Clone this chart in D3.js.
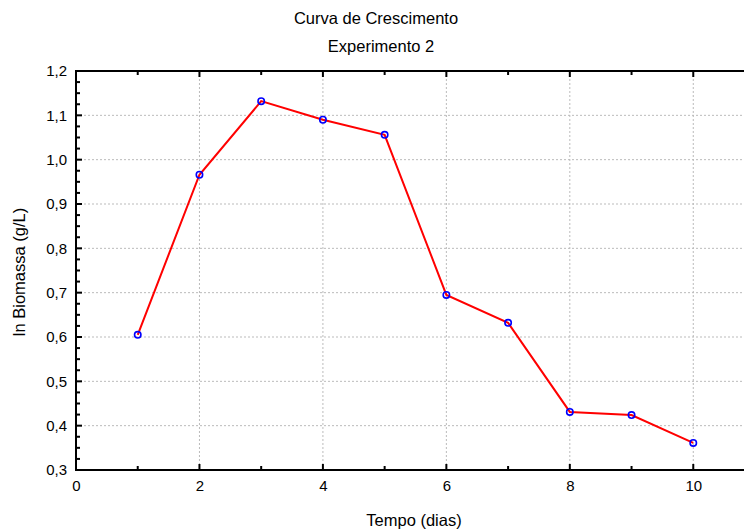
<!DOCTYPE html>
<html>
<head>
<meta charset="utf-8">
<script src="https://cdn.jsdelivr.net/npm/d3@7"></script>
<style>
  body { margin: 0; background: #fff; }
  svg { display: block; font-family: "Liberation Sans", Arial, sans-serif; }
</style>
</head>
<body>
<div id="chart-area"></div>
<script>
// data
var dias = [1, 2, 3, 4, 5, 6, 7, 8, 9, 10];
var biomassa = [0.605, 0.966, 1.132, 1.090, 1.056, 0.695, 0.632, 0.431, 0.424, 0.361];
var xTicks = [0, 2, 4, 6, 8, 10];
var yTicks = [0.3, 0.4, 0.5, 0.6, 0.7, 0.8, 0.9, 1.0, 1.1, 1.2];

var width = 744;
var height = 529;
var margin = {top: 71, left: 76, bottom: 59};

var svg = d3.select("#chart-area")
    .append("svg")
    .attr("width", width)
    .attr("height", height);

// x domain runs past the window edge, like the original
var x = d3.scaleLinear()
    .domain([0, 11])
    .range([margin.left, 755]);

var y = d3.scaleLinear()
    .domain([0.3, 1.2])
    .range([height - margin.bottom, margin.top]);

var fmt = (d) => d3.format(".1f")(d).replace(".", ",");

// grid
svg.append("g")
    .selectAll("line")
    .data(yTicks.slice(1, -1))
    .enter().append("line")
        .attr("x1", x(0))
        .attr("x2", width)
        .attr("y1", (d) => y(d))
        .attr("y2", (d) => y(d))
        .attr("stroke", "#bbb")
        .attr("stroke-dasharray", "2,2");

svg.append("g")
    .selectAll("line")
    .data(xTicks.slice(1))
    .enter().append("line")
        .attr("x1", (d) => x(d))
        .attr("x2", (d) => x(d))
        .attr("y1", y(1.2))
        .attr("y2", y(0.3))
        .attr("stroke", "#bbb")
        .attr("stroke-dasharray", "2,2");

// bottom axis, ticks pointing inward
var bottomAxis = d3.axisBottom(x)
    .tickValues(xTicks)
    .tickSize(0)
    .tickPadding(10);

var xAxisGroup = svg.append("g")
    .attr("transform", "translate(0, " + y(0.3) + ")")
    .call(bottomAxis);
xAxisGroup.select(".domain").remove();
xAxisGroup.selectAll("text")
    .attr("font-size", "15px")
    .attr("font-family", "Liberation Sans, Arial, sans-serif")
    .attr("fill", "#000");

// left axis
var leftAxis = d3.axisLeft(y)
    .tickValues(yTicks)
    .tickSize(0)
    .tickPadding(9)
    .tickFormat(fmt);

var yAxisGroup = svg.append("g")
    .attr("transform", "translate(" + x(0) + ", 0)")
    .call(leftAxis);
yAxisGroup.select(".domain").remove();
yAxisGroup.selectAll("text")
    .attr("font-size", "15px")
    .attr("font-family", "Liberation Sans, Arial, sans-serif")
    .attr("fill", "#000");

// inward tick marks
var xMinor = d3.range(1, 12);
var yMinor = d3.range(0, 37).map((i) => 0.3 + i * 0.025);

svg.append("g").selectAll("line")
    .data(xMinor)
    .enter().append("line")
        .attr("x1", (d) => x(d))
        .attr("x2", (d) => x(d))
        .attr("y1", y(0.3))
        .attr("y2", (d) => y(0.3) - (d % 2 == 0 ? 6 : 4))
        .attr("stroke", "#000")
        .attr("stroke-width", 2);

svg.append("g").selectAll("line")
    .data(xMinor)
    .enter().append("line")
        .attr("x1", (d) => x(d))
        .attr("x2", (d) => x(d))
        .attr("y1", y(1.2))
        .attr("y2", (d) => y(1.2) + (d % 2 == 0 ? 6 : 4))
        .attr("stroke", "#000")
        .attr("stroke-width", 2);

svg.append("g").selectAll("line")
    .data(yMinor)
    .enter().append("line")
        .attr("x1", x(0))
        .attr("x2", (d, i) => x(0) + (i % 4 == 0 ? 6 : 4))
        .attr("y1", (d) => y(d))
        .attr("y2", (d) => y(d))
        .attr("stroke", "#000")
        .attr("stroke-width", 2);

// frame
svg.append("line")
    .attr("x1", x(0)).attr("x2", width)
    .attr("y1", y(0.3)).attr("y2", y(0.3))
    .attr("stroke", "#000").attr("stroke-width", 2);
svg.append("line")
    .attr("x1", x(0)).attr("x2", width)
    .attr("y1", y(1.2)).attr("y2", y(1.2))
    .attr("stroke", "#000").attr("stroke-width", 2);
svg.append("line")
    .attr("x1", x(0)).attr("x2", x(0))
    .attr("y1", y(1.2) - 1).attr("y2", y(0.3) + 1)
    .attr("stroke", "#000").attr("stroke-width", 2);

// series
var pts = dias.map((d, i) => [d, biomassa[i]]);

var line = d3.line()
    .x((d) => x(d[0]))
    .y((d) => y(d[1]));

svg.append("path")
    .datum(pts)
    .attr("d", line)
    .attr("fill", "none")
    .attr("stroke", "#ff0000")
    .attr("stroke-width", 2);

svg.append("g").selectAll("circle")
    .data(pts)
    .enter().append("circle")
        .attr("cx", (d) => x(d[0]))
        .attr("cy", (d) => y(d[1]))
        .attr("r", 3.2)
        .attr("fill", "none")
        .attr("stroke", "#0000ff")
        .attr("stroke-width", 1.6);

// titles
svg.append("text")
    .attr("x", 376)
    .attr("y", 24)
    .attr("font-size", "16.5px")
    .attr("text-anchor", "middle")
    .text("Curva de Crescimento");

svg.append("text")
    .attr("x", 381)
    .attr("y", 52)
    .attr("font-size", "16.5px")
    .attr("text-anchor", "middle")
    .text("Experimento 2");

svg.append("text")
    .attr("x", 414)
    .attr("y", 526)
    .attr("font-size", "16.5px")
    .attr("text-anchor", "middle")
    .text("Tempo (dias)");

svg.append("text")
    .attr("transform", "translate(25, " + 272 + ") rotate(-90)")
    .attr("font-size", "16.5px")
    .attr("text-anchor", "middle")
    .text("ln Biomassa (g/L)");
</script>
</body>
</html>
